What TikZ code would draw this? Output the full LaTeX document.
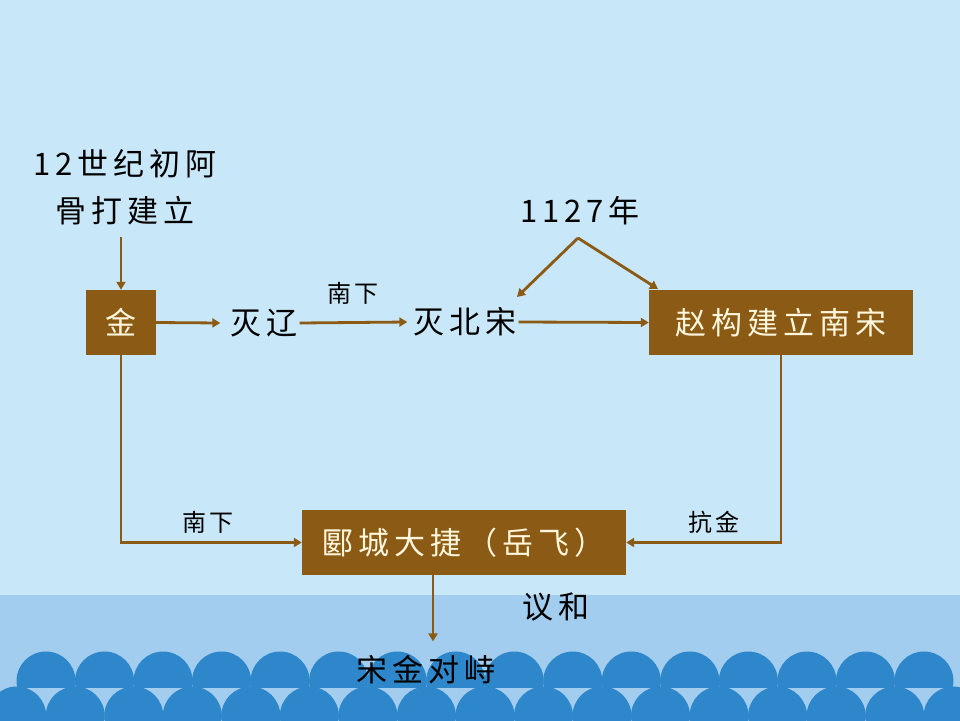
\documentclass[tikz,border=0pt]{standalone}
\usepackage{fontspec}
\setmainfont{Liberation Sans}
\newfontfamily\cjk[LetterSpace=16]{Noto Sans CJK SC}
\usetikzlibrary{arrows.meta}
\definecolor{bgtop}{HTML}{C8E7F8}
\definecolor{band}{HTML}{A2CDEF}
\definecolor{dome}{HTML}{2E87CA}
\definecolor{brn}{HTML}{8B5A14}
\definecolor{cream}{HTML}{FFF6DC}
\begin{document}
\begin{tikzpicture}[x=1pt,y=-1pt,
  txt/.style={font=\cjk\fontsize{31}{47}\selectfont, text=black, inner sep=0pt},
  small/.style={font=\cjk\fontsize{24}{28}\selectfont, text=black, inner sep=0pt},
  box/.style={fill=brn, text=cream, font=\cjk\fontsize{31}{35}\selectfont, inner sep=0pt},
  conn/.style={draw=brn, line width=2.8pt, -{Triangle[length=8pt,width=9pt]}}]
\useasboundingbox (0,0) rectangle (960,720);
\fill[bgtop] (0,0) rectangle (960,720);
\fill[band] (0,595) rectangle (960,720);
\begin{scope}
  \clip (0,0) rectangle (960,687);
  \foreach \i in {0,...,15} \fill[dome] ({46+58.53*\i},681) circle (29.5pt);
\end{scope}
\begin{scope}
  \clip (0,0) rectangle (960,720);
  \foreach \i in {0,...,16} \fill[dome] ({16.7+58.53*\i},716) circle (29.5pt);
\end{scope}
% nodes
\node[txt, align=center] (src) at (125,187) {12世纪初阿\\骨打建立};
\node[box, minimum width=70pt, minimum height=65pt] (jin) at (121,322.5) {金};
\node[txt] (liao) at (264,323) {灭辽};
\node[txt] (bs) at (465,322) {灭北宋};
\node[box, minimum width=264pt, minimum height=65pt] (nans) at (781,322.5) {赵构建立南宋};
\node[txt] (y1127) at (580,211) {1127年};
\node[box, minimum width=324pt, minimum height=65pt] (ycdj) at (464,542.5) {郾城大捷（岳飞）};
\node[txt] (dz) at (426,670) {宋金对峙};
\node[small] (l1) at (353,293) {南下};
\node[small] (l2) at (208,522) {南下};
\node[small] (l3) at (714,522) {抗金};
\node[txt] (l4) at (556,607) {议和};
\coordinate (apex) at (578,238);
\coordinate (bsin) at (517,297);
\coordinate (nsin) at (658,289);
% connectors
\draw[conn] ([yshift=-12pt]src.south -| jin.north) -- (jin.north);
\draw[conn] (jin.east) -- ([xshift=-10pt]liao.west);
\draw[conn] ([xshift=2pt]liao.east) -- ([xshift=-6pt]bs.west);
\draw[conn] ([xshift=2pt]bs.east) -- (nans.west);
\draw[conn] (apex) -- (bsin);
\draw[conn] (apex) -- (nsin);
\draw[conn] (jin.south) |- (ycdj.west);
\draw[conn] (nans.south) |- (ycdj.east);
\draw[conn] ([xshift=-31pt]ycdj.south) -- ([xshift=-31pt,yshift=14pt]ycdj.south |- dz.north);
\end{tikzpicture}
\end{document}
